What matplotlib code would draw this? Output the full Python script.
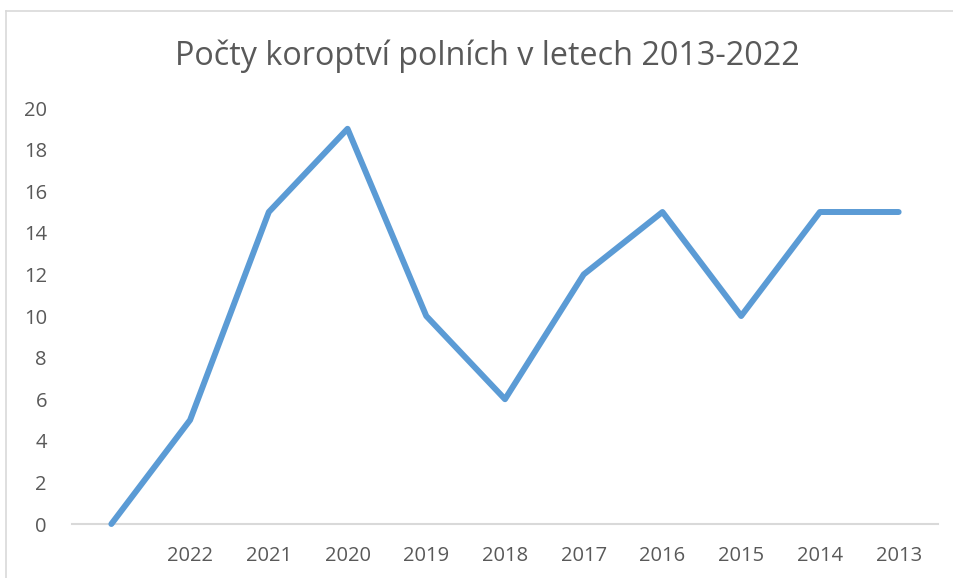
import matplotlib.pyplot as plt
from matplotlib.lines import Line2D

# data (first point has no year label)
years = ["", "2022", "2021", "2020", "2019", "2018", "2017", "2016", "2015", "2014", "2013"]
counts = [0, 5, 15, 19, 10, 6, 12, 15, 10, 15, 15]
yticks = [0, 2, 4, 6, 8, 10, 12, 14, 16, 18, 20]

plt.rcParams['font.family'] = ['Open Sans', 'DejaVu Sans']
grey = "#595959"

W, H = 954, 578
fig = plt.figure(figsize=(W / 100, H / 100), dpi=100)

# chart frame (top and left edges visible)
fig.add_artist(Line2D([6.5 / W, 1], [1 - 10.5 / H, 1 - 10.5 / H], color="#d9d9d9", lw=1.2))
fig.add_artist(Line2D([6.5 / W, 6.5 / W], [0, 1 - 10.5 / H], color="#d9d9d9", lw=1.2))

ax = fig.add_axes([72 / W, 1 - 524 / H, (938 - 72) / W, (524 - 108) / H])
x = list(range(len(years)))
ax.plot(x, counts, color="#5b9bd5", lw=4.3, solid_capstyle="round", solid_joinstyle="round",
        clip_on=False, zorder=3)

ax.set_xlim(-0.5, len(years) - 0.5)
ax.set_ylim(0, 20)
ax.set_xticks(x)
ax.set_xticklabels(years)
ax.set_yticks(yticks)
ax.tick_params(length=0, labelsize=14.5, colors=grey)
ax.tick_params(axis="x", pad=16)
ax.tick_params(axis="y", pad=18)
for lab in ax.get_yticklabels():
    lab.set_horizontalalignment("right")

for s in ["top", "right", "left"]:
    ax.spines[s].set_visible(False)
ax.spines["bottom"].set_color("#d9d9d9")
ax.spines["bottom"].set_linewidth(1.5)

fig.text(487 / W, 1 - 56 / H, "Počty koroptví polních v letech 2013-2022",
         ha="center", va="center", fontsize=23.3, color=grey)

fig.savefig("out.png", dpi=100)
